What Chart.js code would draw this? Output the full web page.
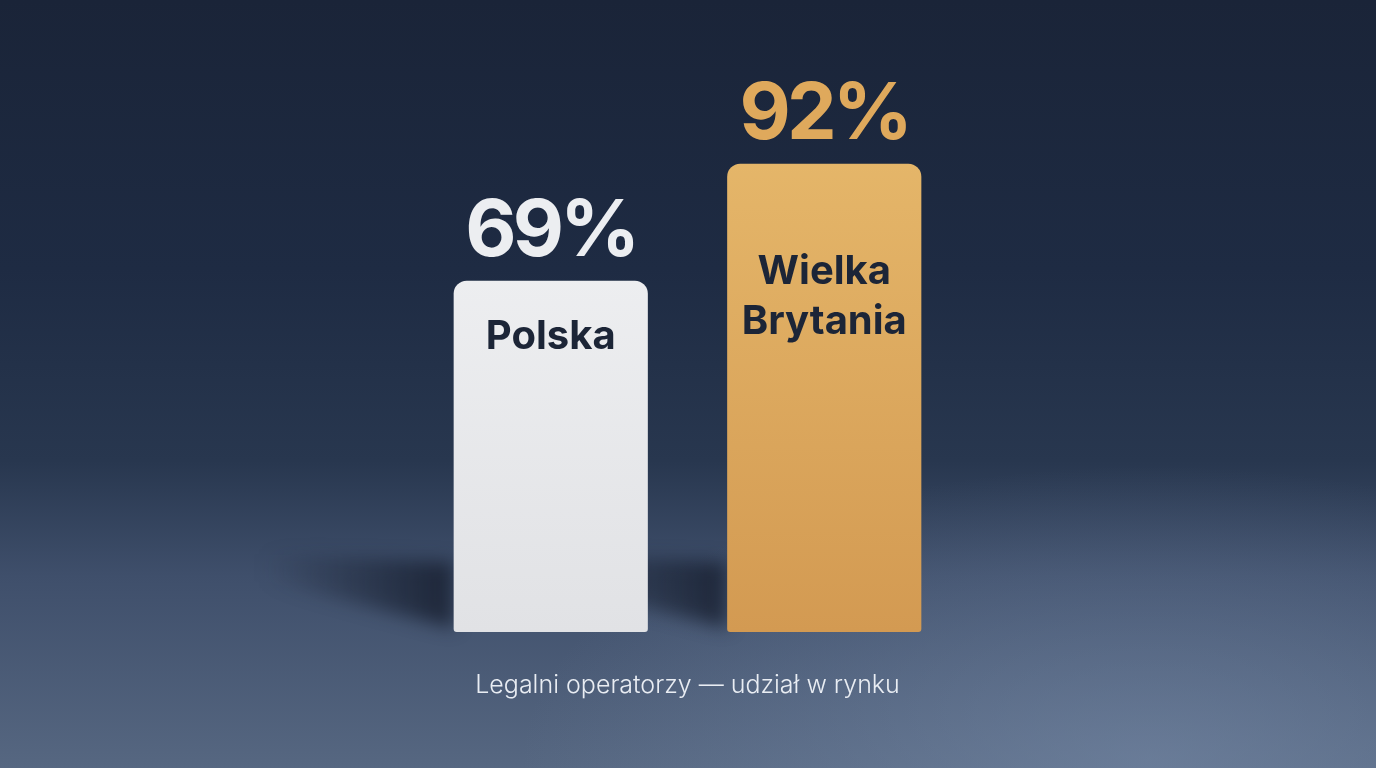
<!DOCTYPE html>
<html lang="pl">
<head>
<meta charset="utf-8">
<title>Legalni operatorzy — udział w rynku</title>
<script src="https://cdn.jsdelivr.net/npm/chart.js@4.4.1/dist/chart.umd.min.js"></script>
<style>
    html, body {
        margin: 0;
        padding: 0;
        width: 1376px;
        height: 768px;
        overflow: hidden;
    }
    body {
        background:
            radial-gradient(ellipse 900px 420px at 1150px 760px, rgba(125, 145, 175, 0.5), rgba(125, 145, 175, 0) 70%),
            linear-gradient(180deg, #1a2438 0%, #1e2b43 35%, #28374f 60%, #3f4f6b 75%, #566781 100%);
    }
    #wrap {
        position: absolute;
        left: 0;
        top: 0;
        width: 1376px;
        height: 768px;
    }
</style>
</head>
<body>
<div id="wrap"><canvas id="shareChart"></canvas></div>
<script>
// data
const categories = ["Polska", "Wielka Brytania"];
const shares = [69, 92];
const categoryLines = [["Polska"], ["Wielka", "Brytania"]];
const caption = "Legalni operatorzy — udział w rynku";

const barTop = ["#f2f3f5", "#e6b86b"];
const barBottom = ["#e1e2e5", "#d39a52"];
const valueColors = ["#eceef1", "#dfa95c"];
const labelOffsets = [56, 133];   // block centre below bar top

function barGradient(context) {
    const chart = context.chart;
    const area = chart.chartArea;
    if (!area) return barTop[context.dataIndex];
    const g = chart.ctx.createLinearGradient(0, area.top, 0, area.bottom);
    g.addColorStop(0, barTop[context.dataIndex]);
    g.addColorStop(1, barBottom[context.dataIndex]);
    return g;
}

// long floor shadow thrown to the left of each bar
const shadowPlugin = {
    id: "barShadow",
    beforeDatasetsDraw(chart) {
        const ctx = chart.ctx;
        const meta = chart.getDatasetMeta(0);
        ctx.save();
        meta.data.forEach(bar => {
            const left = bar.x - bar.width / 2;
            const g = ctx.createLinearGradient(left - 190, 0, left, 0);
            g.addColorStop(0, "rgba(14, 20, 34, 0)");
            g.addColorStop(1, "rgba(14, 20, 34, 0.7)");
            ctx.fillStyle = g;
            ctx.filter = "blur(9px)";
            ctx.beginPath();
            ctx.moveTo(left, bar.base - 4);
            ctx.lineTo(left, bar.base - 70);
            ctx.lineTo(left - 190, bar.base - 78);
            ctx.lineTo(left - 190, bar.base - 52);
            ctx.closePath();
            ctx.fill();
        });
        ctx.restore();
    }
};

const labelPlugin = {
    id: "barLabels",
    afterDatasetsDraw(chart) {
        const ctx = chart.ctx;
        const meta = chart.getDatasetMeta(0);
        ctx.save();
        ctx.textAlign = "center";
        meta.data.forEach((bar, i) => {
            // value above bar
            ctx.fillStyle = valueColors[i];
            ctx.font = "700 79px Inter, 'Noto Sans', sans-serif";
            ctx.letterSpacing = "-4px";
            ctx.textBaseline = "alphabetic";
            ctx.fillText(shares[i] + "%", bar.x, bar.y - 25);

            // category name inside bar
            const lines = categoryLines[i];
            const lh = 50;
            const centre = bar.y + labelOffsets[i];
            ctx.fillStyle = "#1c2537";
            ctx.font = "700 40px Inter, 'Noto Sans', sans-serif";
            ctx.letterSpacing = "0px";
            ctx.textBaseline = "middle";
            lines.forEach((line, k) => {
                const y = centre + (k - (lines.length - 1) / 2) * lh;
                ctx.fillText(line, bar.x, y);
            });
        });

        // caption under the bars
        ctx.fillStyle = "#e9edf3";
        ctx.font = "300 25px Inter, 'Noto Sans', sans-serif";
        ctx.textBaseline = "middle";
        ctx.fillText(caption, (chart.chartArea.left + chart.chartArea.right) / 2, chart.chartArea.bottom + 53);
        ctx.restore();
    }
};

new Chart(document.getElementById("shareChart").getContext("2d"), {
    type: "bar",
    data: {
        labels: categories,
        datasets: [{
            data: shares,
            backgroundColor: barGradient,
            borderWidth: 0,
            borderSkipped: false,
            borderRadius: { topLeft: 13, topRight: 13, bottomLeft: 3, bottomRight: 3 },
            categoryPercentage: 1,
            barPercentage: 0.71
        }]
    },
    options: {
        responsive: true,
        maintainAspectRatio: false,
        animation: false,
        layout: {
            padding: { left: 414, right: 415, top: 123, bottom: 136 }
        },
        scales: {
            x: { display: false },
            y: { display: false, min: 0, max: 100 }
        },
        plugins: {
            legend: { display: false },
            tooltip: { enabled: false }
        }
    },
    plugins: [shadowPlugin, labelPlugin]
});
</script>
</body>
</html>
